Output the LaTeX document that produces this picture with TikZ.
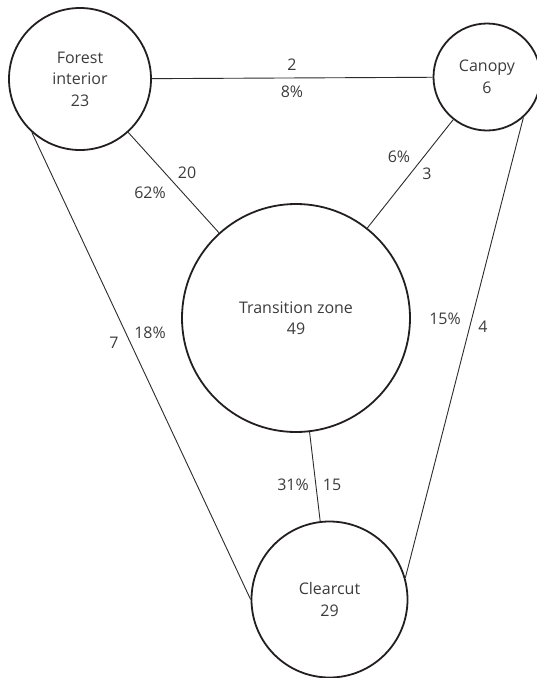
\documentclass[tikz,border=0pt]{standalone}
\usepackage{fontspec}
\setmainfont{Open Sans}
\usepackage{tikz}
\usetikzlibrary{positioning}
\definecolor{kreis}{HTML}{231F20}
\definecolor{linie}{HTML}{2B2B2B}
\definecolor{schrift}{HTML}{3C3C3C}

\begin{document}
\begin{tikzpicture}[
    x=1pt, y=-1pt,
    every node/.style={font=\fontsize{16}{21.5}\selectfont, text=schrift},
    zone/.style={circle, draw=kreis, line width=1.8pt, inner sep=0pt, align=center},
    verb/.style={draw=linie, line width=0.9pt},
  ]
  \useasboundingbox (0,0) rectangle (537,678);

  % Lebensraeume
  \node[zone, minimum size=142pt] (forest) at (80,79) {Forest\\interior\\23};
  \node[zone, minimum size=107pt] (canopy) at (487,77) {Canopy\\6};
  \node[zone, minimum size=228pt] (trans) at (296,318) {Transition zone\\49};
  \node[zone, minimum size=156pt] (clear) at (329.5,599.5) {Clearcut\\29};

  % Verbindungen
  \draw[verb] (forest) -- (canopy);
  \draw[verb] (forest) -- (trans);
  \draw[verb] (canopy) -- (trans);
  \draw[verb] (trans) -- (clear);
  \draw[verb] (forest.228) -- (clear.west);
  \draw[verb] (canopy.312) -- (clear.16);

  % Anzahl und Anteil an den Kanten
  \foreach \n/\px/\py/\t in {fcn/292/65/2, fcp/292/92/8\%,
      ftn/187/173/20, ftp/150/193/62\%,
      ctp/399/157/6\%, ctn/427/174/3,
      fkn/114/343/7, fkp/150/333/18\%,
      ckp/445/319/15\%, ckn/483/327/4,
      tkp/293/485/31\%, tkn/332/485/15} {
    \node[inner sep=0pt] (\n) at (\px,\py) {\t};
  }
\end{tikzpicture}
\end{document}
